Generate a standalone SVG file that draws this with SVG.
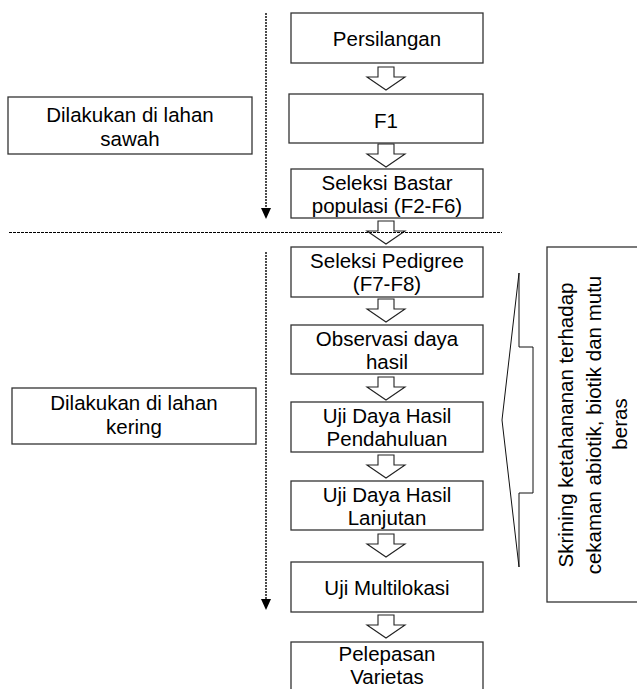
<svg xmlns="http://www.w3.org/2000/svg" width="637" height="689" viewBox="0 0 637 689">
<style>
.box{fill:#fff;stroke:#333;stroke-width:1.3}
.t{font-family:"Liberation Sans",Arial,sans-serif;font-size:20.5px;fill:#000;text-anchor:middle}
.blk{fill:#fff;stroke:#222;stroke-width:1.1}
.dot{stroke:#000;stroke-width:1.4;stroke-dasharray:2 1;fill:none}
.ln{stroke:#111;stroke-width:1;fill:none}
</style>
<defs>
<path id="ba" d="M-8,0 H8 V10 H19 L0,23 L-19,10 H-8 Z"/>
</defs>
<g id="connectors">
<line class="dot" x1="266" y1="13" x2="266" y2="210"/>
<path d="M261,208 L271,208 L266,219 Z" fill="#000"/>
<line class="dot" x1="266" y1="252" x2="266" y2="601"/>
<path d="M261,599 L271,599 L266,610 Z" fill="#000"/>
<use href="#ba" class="blk" x="386" y="67"/>
<use href="#ba" class="blk" x="386" y="144"/>
<use href="#ba" class="blk" x="386" y="221"/>
<line x1="9" y1="232.5" x2="502" y2="232.5" stroke="#000" stroke-width="1.2" stroke-dasharray="3 1"/>
<use href="#ba" class="blk" x="386" y="299"/>
<use href="#ba" class="blk" x="386" y="377"/>
<use href="#ba" class="blk" x="386" y="455"/>
<use href="#ba" class="blk" x="386" y="534"/>
<use href="#ba" class="blk" x="386" y="615"/>
<path class="ln" d="M519,273 L502,420 L519,567"/>
<path class="ln" d="M519,273 V347 H533 V493 H519 V567"/>
</g>
<g id="sawah"><rect class="box" x="8" y="97" width="244" height="57"/>
<text class="t" x="130" y="122">Dilakukan di lahan</text><text class="t" x="130" y="146">sawah</text></g>
<g id="kering"><rect class="box" x="12" y="388" width="244" height="56"/>
<text class="t" x="134" y="410">Dilakukan di lahan</text><text class="t" x="134" y="434">kering</text></g>
<g id="persilangan"><rect class="box" x="291" y="13" width="192" height="50"/>
<text class="t" x="387" y="46">Persilangan</text></g>
<g id="f1"><rect class="box" x="289" y="94" width="194" height="49"/>
<text class="t" x="386" y="128">F1</text></g>
<g id="bastar"><rect class="box" x="291" y="169" width="192" height="49"/>
<text class="t" x="387" y="190">Seleksi Bastar</text><text class="t" x="387" y="213">populasi (F2-F6)</text></g>
<g id="pedigree"><rect class="box" x="291" y="247" width="192" height="50"/>
<text class="t" x="387" y="268">Seleksi Pedigree</text><text class="t" x="387" y="291">(F7-F8)</text></g>
<g id="observasi"><rect class="box" x="291" y="325" width="192" height="49"/>
<text class="t" x="387" y="346">Observasi daya</text><text class="t" x="387" y="369">hasil</text></g>
<g id="pendahuluan"><rect class="box" x="291" y="402" width="192" height="50"/>
<text class="t" x="387" y="423">Uji Daya Hasil</text><text class="t" x="387" y="446">Pendahuluan</text></g>
<g id="lanjutan"><rect class="box" x="291" y="481" width="192" height="49"/>
<text class="t" x="387" y="502">Uji Daya Hasil</text><text class="t" x="387" y="525">Lanjutan</text></g>
<g id="multilokasi"><rect class="box" x="291" y="562" width="192" height="50"/>
<text class="t" x="387" y="595">Uji Multilokasi</text></g>
<g id="pelepasan"><rect class="box" x="291" y="642" width="192" height="60"/>
<text class="t" x="387" y="661">Pelepasan</text><text class="t" x="387" y="684">Varietas</text></g>
<g id="skrining"><rect class="box" x="547" y="247" width="110" height="355"/>
<text class="t" transform="translate(573,425) rotate(-90)">Skrining ketahananan terhadap</text>
<text class="t" transform="translate(601,425) rotate(-90)">cekaman abiotik, biotik dan mutu</text>
<text class="t" transform="translate(627,424) rotate(-90)">beras</text></g>
</svg>
